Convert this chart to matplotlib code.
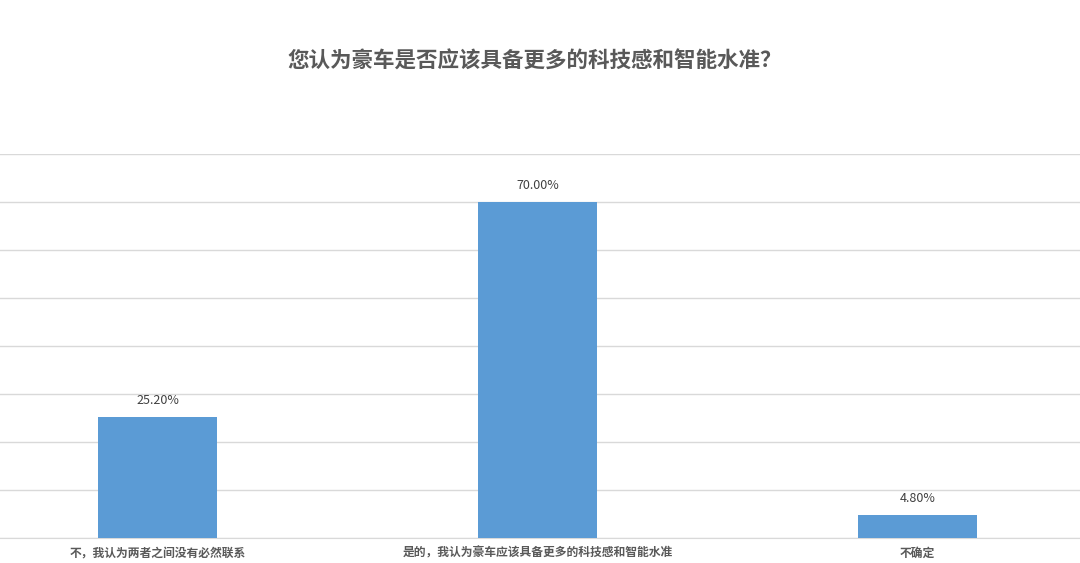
import numpy as np
import matplotlib.pyplot as plt

plt.rcParams['font.family'] = ['Noto Sans CJK SC', 'DejaVu Sans']

# data
categories = ["不，我认为两者之间没有必然联系", "是的，我认为豪车应该具备更多的科技感和智能水准", "不确定"]
values = [25.2, 70.0, 4.8]
title = "您认为豪车是否应该具备更多的科技感和智能水准？"

fig = plt.figure(figsize=(10.8, 5.63), dpi=100)
ax = fig.add_axes([0, 25 / 563, 1, 384 / 563])

x = np.arange(len(categories))
ax.bar(x, values, width=0.313, color='#5B9BD5', zorder=3)

for xi, v in zip(x, values):
    ax.text(xi, v + 2.0, f"{v:.2f}%", ha='center', va='bottom',
            fontsize=9, color='#404040')

ax.set_ylim(0, 80)
ax.set_xlim(-157.5 / 380, (1080 - 157.5) / 380)
ax.set_yticks(np.arange(0, 81, 10))
ax.yaxis.grid(True, color='#D9D9D9', linewidth=1, zorder=0)
ax.tick_params(axis='y', left=False, labelleft=False)
ax.set_xticks(x)
ax.set_xticklabels(categories, fontsize=8.5, fontweight='bold', color='#595959')
ax.tick_params(axis='x', length=0, pad=6)
for s in ax.spines.values():
    s.set_visible(False)
ax.spines['bottom'].set_visible(True)
ax.spines['bottom'].set_color('#D9D9D9')

fig.text(535 / 1080, 1 - 61 / 563, title, ha='center', va='center',
         fontsize=15.5, fontweight='bold', color='#595959')

fig.savefig("out.png", dpi=100)
